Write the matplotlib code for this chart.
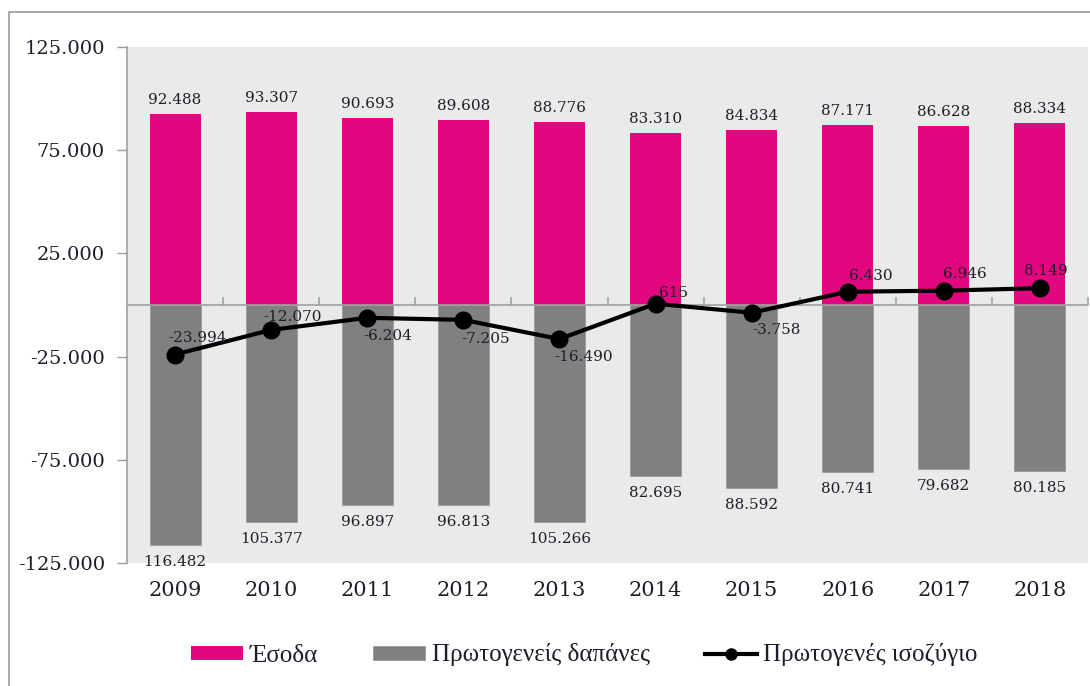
import matplotlib.pyplot as plt
from matplotlib.patches import Rectangle
from matplotlib.lines import Line2D
from matplotlib.ticker import FuncFormatter
import numpy as np

years = ['2009', '2010', '2011', '2012', '2013', '2014', '2015', '2016', '2017', '2018']
revenue = [92488, 93307, 90693, 89608, 88776, 83310, 84834, 87171, 86628, 88334]
primary_spending = [116482, 105377, 96897, 96813, 105266, 82695, 88592, 80741, 79682, 80185]
primary_balance = [-23994, -12070, -6204, -7205, -16490, 615, -3758, 6430, 6946, 8149]

# label offsets for the balance line (pixels, x right / y up)
balance_label_offsets = [(23, 17), (21, 13), (21, -18), (22, -19), (24, -18),
                         (18, 11), (25, -17), (23, 16), (21, 17), (6, 17)]

pink = '#E2077E'
grey = '#808080'
text_color = '#1e1e2a'


def fmt_gr(v):
    s = f'{abs(int(round(v))):,}'.replace(',', '.')
    return ('-' + s) if v < 0 else s


figure = plt.figure(figsize=(10.9, 6.86), dpi=100)
ax = figure.add_axes([127 / 1090, 1 - 563 / 686, 961 / 1090, 516 / 686])
ax.set_facecolor('#EAEAEA')

x = np.arange(len(years))
width = 0.53
bars_rev = ax.bar(x, revenue, width, color=pink, label='Έσοδα', zorder=2)
bars_exp = ax.bar(x, [-v for v in primary_spending], width, color=grey,
                  edgecolor='#9a9a9a', linewidth=0.6, label='Πρωτογενείς δαπάνες', zorder=2)
ax.plot(x, primary_balance, color='black', lw=3, marker='o', markersize=12, zorder=4)

label_font = dict(family='DejaVu Serif', fontsize=11, color=text_color)
for xi, v in zip(x, revenue):
    ax.annotate(fmt_gr(v), (xi, v), xytext=(0, 14), textcoords='offset pixels',
                ha='center', va='center', zorder=5, **label_font)
for xi, v in zip(x, primary_spending):
    ax.annotate(fmt_gr(v), (xi, -v), xytext=(0, -17), textcoords='offset pixels',
                ha='center', va='center', zorder=5, **label_font)
for xi, v, off in zip(x, primary_balance, balance_label_offsets):
    ax.annotate(fmt_gr(v), (xi, v), xytext=off, textcoords='offset pixels',
                ha='center', va='center', zorder=5, **label_font)

ax.set_xlim(-0.5, len(years) - 0.5)
ax.set_ylim(-125000, 125000)
ax.set_yticks([125000, 75000, 25000, -25000, -75000, -125000])
ax.yaxis.set_major_formatter(FuncFormatter(lambda v, p: fmt_gr(v)))
ax.tick_params(axis='y', length=7, color='#9a9a9a', width=1, pad=9,
               labelsize=14, labelcolor=text_color)
for lab in ax.get_yticklabels():
    lab.set_family('DejaVu Serif')

# years below the plot area; zero axis with ticks at category boundaries
ax.set_xticks([])
for xi, yr in zip(x, years):
    ax.annotate(yr, (xi, -125000), xytext=(0, -28), textcoords='offset pixels',
                ha='center', va='center', fontsize=15, family='DejaVu Serif',
                color=text_color, annotation_clip=False)
ax.axhline(0, color='#a0a0a0', lw=1.2, zorder=3)
for b in np.arange(0.5, len(years) + 0.5, 1.0):
    ax.plot([b, b], [0, 3500], color='#a0a0a0', lw=1.2, zorder=3, clip_on=False)

for side in ['top', 'right', 'bottom']:
    ax.spines[side].set_visible(False)
ax.spines['left'].set_color('#a0a0a0')
ax.spines['left'].set_linewidth(1.2)

line_handle = Line2D([], [], color='black', lw=3, marker='o', markersize=8)
leg = figure.legend(handles=[bars_rev, bars_exp, line_handle],
                    labels=['Έσοδα', 'Πρωτογενείς δαπάνες', 'Πρωτογενές ισοζύγιο'],
                    loc='center', bbox_to_anchor=(0.536, 1 - 655 / 686), ncol=3,
                    frameon=False, prop={'family': 'Liberation Serif', 'size': 18},
                    handlelength=2.1, handleheight=0.5, handletextpad=0.25,
                    columnspacing=2.2)
for t in leg.get_texts():
    t.set_color(text_color)

# outer frame (clipped at right and bottom like the reference)
figure.patches.append(Rectangle((9 / 1090, -0.1), 1.2, 1 - 12 / 686 + 0.1,
                                transform=figure.transFigure, fill=False,
                                edgecolor='#9a9a9a', lw=1.2))

plt.savefig('out.png', dpi=100)
